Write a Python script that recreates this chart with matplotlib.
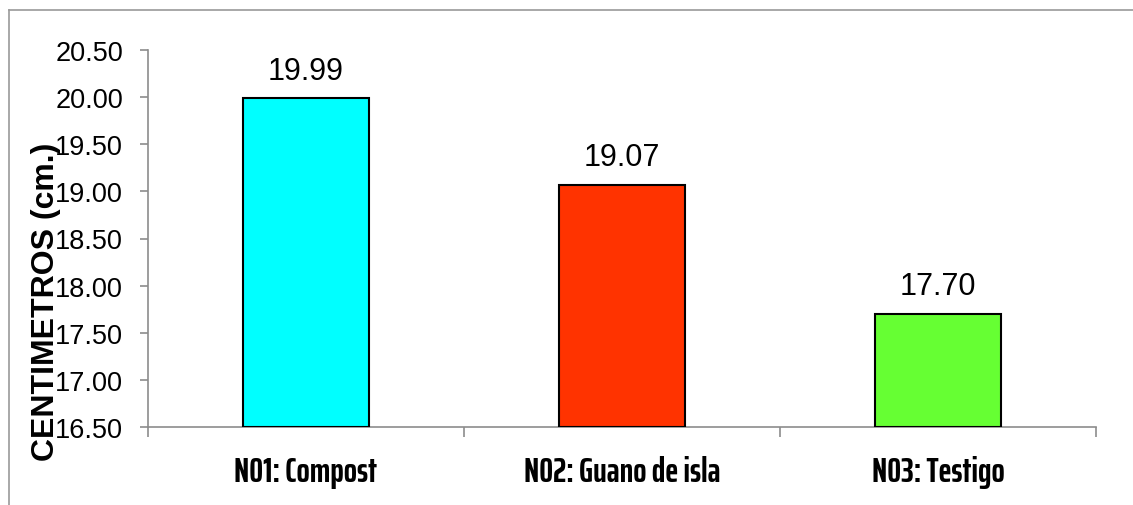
import matplotlib
matplotlib.use("Agg")
import matplotlib.pyplot as plt
from matplotlib.lines import Line2D

categories = ["N01: Compost", "N02: Guano de isla", "N03: Testigo"]
values = [19.99, 19.07, 17.70]
value_labels = ["19.99", "19.07", "17.70"]
colors = ["#00FFFF", "#FF3300", "#66FF33"]
yticks = [16.5, 17.0, 17.5, 18.0, 18.5, 19.0, 19.5, 20.0, 20.5]
ytick_labels = ["16.50", "17.00", "17.50", "18.00", "18.50", "19.00", "19.50", "20.00", "20.50"]
ylabel = "CENTIMETROS (cm.)"

W, H = 1133, 506
fig = plt.figure(figsize=(W / 100, H / 100), dpi=100)
ax = fig.add_axes([148 / W, 1 - 428 / H, (1096 - 148) / W, (428 - 51) / H])

x = list(range(len(categories)))
ax.bar(x, [v - 16.5 for v in values], bottom=16.5, width=0.4, color=colors,
       edgecolor="black", linewidth=1.5, zorder=3)
ax.set_xlim(-0.5, 2.5)
ax.set_ylim(16.5, 20.5)

for xi, v, lab in zip(x, values, value_labels):
    ax.annotate(lab, (xi, v), xytext=(0, 14), textcoords="offset points",
                ha="center", va="baseline", fontsize=22, family="Liberation Sans")

ax.set_yticks(yticks)
ax.set_yticklabels(ytick_labels, fontsize=19.5, family="Liberation Sans")
ax.tick_params(axis="y", length=6, width=1.2, color="#8c8c8c", pad=12)

ax.set_xticks(x)
ax.set_xticklabels(categories, fontsize=25, fontweight="bold",
                   family=["Saira ExtraCondensed", "DejaVu Sans"])
ax.set_xticks([-0.5, 0.5, 1.5, 2.5], minor=True)
ax.tick_params(axis="x", which="major", length=0, pad=20)
ax.tick_params(axis="x", which="minor", length=7.5, width=1.2, color="#8c8c8c")

for s in ["top", "right"]:
    ax.spines[s].set_visible(False)
for s in ["left", "bottom"]:
    ax.spines[s].set_color("#8c8c8c")
    ax.spines[s].set_linewidth(1.2)

fig.text(46 / W, 1 - 302 / H, ylabel, rotation=90, ha="center", va="center",
         fontsize=23, fontweight="bold", family="Liberation Sans")

# outer frame (top and left edges visible)
fig.add_artist(Line2D([9 / W, 1.0], [1 - 11 / H, 1 - 11 / H], transform=fig.transFigure,
                      color="#9a9a9a", linewidth=1.2))
fig.add_artist(Line2D([9 / W, 9 / W], [1 - 11 / H, 0.0], transform=fig.transFigure,
                      color="#9a9a9a", linewidth=1.2))

fig.savefig("out.png", dpi=100)
